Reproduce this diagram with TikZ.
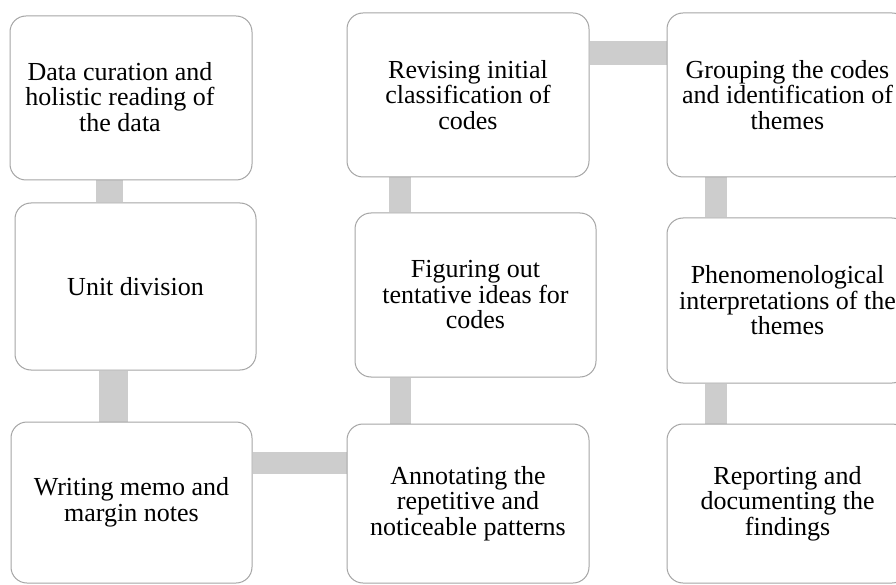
\documentclass[tikz,border=0pt]{standalone}
\usepackage{fontspec}
\setmainfont{Liberation Serif}
\usetikzlibrary{backgrounds}
\definecolor{boxline}{RGB}{165,165,165}
\definecolor{connfill}{RGB}{205,205,205}
\tikzset{
  stepbox/.style={draw=boxline, line width=1pt, fill=white, rounded corners=16pt,
    align=center, inner sep=0pt, text=black,
    font={\fontsize{26pt}{25.5pt}\selectfont}},
  steptext/.style={align=center, inner sep=0pt, text=black,
    font={\fontsize{26pt}{25.5pt}\selectfont}},
  conn/.style={draw=connfill, line width=#1},
  conn/.default=26pt
}
\begin{document}
\begin{tikzpicture}[x=1pt,y=-1pt]
\useasboundingbox (0,0) rectangle (896,585);
\clip (0,0) rectangle (896,585);
\node[stepbox, minimum width=242pt, minimum height=164pt] (b1) at (131,98) {};
\node[steptext] (t1) at (120,97) {Data curation and\\holistic reading of\\the data};
\node[stepbox, minimum width=241pt, minimum height=167pt] (b2) at (135.5,286.5) {Unit division};
\node[stepbox, minimum width=241pt, minimum height=161pt] (b3) at (131.5,502.5) {Writing memo and\\margin notes};
\node[stepbox, minimum width=242pt, minimum height=159pt] (b4) at (468,503.5) {Annotating the\\repetitive and\\noticeable patterns};
\node[stepbox, minimum width=241pt, minimum height=164pt] (b5) at (475.5,295) {Figuring out\\tentative ideas for\\codes};
\node[stepbox, minimum width=242pt, minimum height=164pt] (b6) at (468,95) {Revising initial\\classification of\\codes};
\node[stepbox, minimum width=241pt, minimum height=164pt] (b7) at (787.5,95) {Grouping the codes\\and identification of\\themes};
\node[stepbox, minimum width=241pt, minimum height=165pt] (b8) at (787.5,300.5) {Phenomenological\\interpretations of the\\themes};
\node[stepbox, minimum width=241pt, minimum height=159pt] (b9) at (787.5,503.5) {Reporting and\\documenting the\\findings};
\begin{scope}[on background layer]
\fill[white] (0,0) rectangle (896,585);
\draw[conn=27pt] (109.5,0 |- b1.south) -- (109.5,0 |- b2.north);
\draw[conn=29pt] (113.5,0 |- b2.south) -- (113.5,0 |- b3.north);
\draw[conn=22pt] (b3.east |- 0,463) -- (b4.west |- 0,463);
\draw[conn=21pt] (400.5,0 |- b4.north) -- (400.5,0 |- b5.south);
\draw[conn=22pt] (400,0 |- b5.north) -- (400,0 |- b6.south);
\draw[conn=24pt] (b6.east |- 0,53) -- (b7.west |- 0,53);
\draw[conn=22pt] (716,0 |- b7.south) -- (716,0 |- b8.north);
\draw[conn=22pt] (716,0 |- b8.south) -- (716,0 |- b9.north);
\end{scope}
\end{tikzpicture}
\end{document}
